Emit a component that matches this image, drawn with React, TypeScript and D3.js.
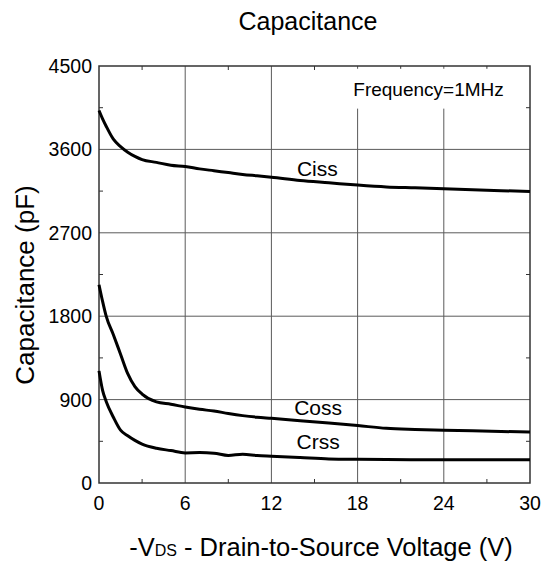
import React, { useEffect, useRef } from 'react';
import * as d3 from 'd3';

// values (V, pF)
const vds = [0, 0.25, 0.5, 1, 1.5, 2, 2.5, 3, 4, 5, 6, 7, 8, 9, 10, 11, 12, 14, 16, 18, 20, 22, 24, 26, 28, 30];
const ciss = [4020, 3930, 3850, 3710, 3630, 3570, 3525, 3490, 3460, 3430, 3415, 3390, 3370, 3350, 3330, 3315, 3300, 3265, 3240, 3215, 3195, 3185, 3175, 3165, 3155, 3145];
const coss = [2140, 1960, 1800, 1600, 1390, 1180, 1040, 960, 875, 850, 820, 795, 777, 750, 727, 710, 698, 672, 648, 620, 590, 578, 570, 563, 556, 550];
const crss = [1210, 1000, 880, 710, 570, 510, 460, 420, 375, 350, 325, 328, 322, 298, 310, 298, 290, 275, 260, 255, 253, 252, 251, 250, 250, 250];

const xTicks = [0, 6, 12, 18, 24, 30];
const yTicks = [0, 900, 1800, 2700, 3600, 4500];
const xMinor = [3, 9, 15, 21, 27];
const yMinor = [450, 1350, 2250, 3150, 4050];

const series = [
  { name: 'Ciss', values: ciss, labelX: 15.2, labelY: 3313 },
  { name: 'Coss', values: coss, labelX: 15.25, labelY: 734 },
  { name: 'Crss', values: crss, labelX: 15.25, labelY: 367 },
];

const FONT = "'Liberation Sans', Arial, sans-serif";

export default function App() {
  const ref = useRef<SVGSVGElement>(null);

  useEffect(() => {
    const width = 547, height = 567;
    const margin = { top: 66, right: 17, bottom: 84, left: 99 };
    const innerWidth = width - margin.left - margin.right;
    const innerHeight = height - margin.top - margin.bottom;

    const svg = d3.select(ref.current).attr('width', width).attr('height', height);
    svg.selectAll('*').remove();
    const g = svg.append('g').attr('transform', `translate(${margin.left},${margin.top})`);

    const x = d3.scaleLinear().domain([0, 30]).range([0, innerWidth]);
    const y = d3.scaleLinear().domain([0, 4500]).range([innerHeight, 0]);

    // grid
    g.selectAll('.vgrid').data(xTicks.slice(1, -1)).join('line')
      .attr('class', 'vgrid')
      .attr('x1', d => x(d)).attr('x2', d => x(d)).attr('y1', 0).attr('y2', innerHeight)
      .attr('stroke', '#5a5a5a').attr('stroke-width', 1);
    g.selectAll('.hgrid').data(yTicks.slice(1, -1)).join('line')
      .attr('class', 'hgrid')
      .attr('x1', 0).attr('x2', innerWidth).attr('y1', d => y(d)).attr('y2', d => y(d))
      .attr('stroke', '#5a5a5a').attr('stroke-width', 1);

    // minor ticks on all four sides, pointing in
    const tl = 4;
    xMinor.forEach(v => {
      g.append('line').attr('x1', x(v)).attr('x2', x(v)).attr('y1', innerHeight).attr('y2', innerHeight - tl).attr('stroke', '#333');
      g.append('line').attr('x1', x(v)).attr('x2', x(v)).attr('y1', 0).attr('y2', tl).attr('stroke', '#333');
    });
    yMinor.forEach(v => {
      g.append('line').attr('x1', 0).attr('x2', tl).attr('y1', y(v)).attr('y2', y(v)).attr('stroke', '#333');
      g.append('line').attr('x1', innerWidth).attr('x2', innerWidth - tl).attr('y1', y(v)).attr('y2', y(v)).attr('stroke', '#333');
    });

    // frequency note with white box
    g.append('rect').attr('x', x(17.4)).attr('y', y(4470)).attr('width', x(29.3) - x(17.4)).attr('height', y(4040) - y(4470)).attr('fill', '#fff');
    g.append('text').attr('x', x(17.7)).attr('y', y(4180)).attr('font-size', 19).attr('font-family', FONT).text('Frequency=1MHz');

    // frame
    g.append('rect').attr('width', innerWidth).attr('height', innerHeight).attr('fill', 'none').attr('stroke', '#333').attr('stroke-width', 1.5);

    // curves
    const line = d3.line<number>().x((_, i) => x(vds[i])).y(d => y(d)).curve(d3.curveMonotoneX);
    series.forEach(s => {
      g.append('path').datum(s.values).attr('d', line).attr('fill', 'none').attr('stroke', '#000').attr('stroke-width', 3);
      g.append('text').attr('x', x(s.labelX)).attr('y', y(s.labelY)).attr('text-anchor', 'middle')
        .attr('font-size', 21).attr('font-family', FONT).text(s.name);
    });

    // tick labels
    g.selectAll('.xl').data(xTicks).join('text')
      .attr('class', 'xl')
      .attr('x', d => x(d)).attr('y', innerHeight + 27).attr('text-anchor', 'middle')
      .attr('font-size', 19.5).attr('font-family', FONT).text(d => d);
    g.selectAll('.yl').data(yTicks).join('text')
      .attr('class', 'yl')
      .attr('x', -7).attr('y', d => y(d) + 7).attr('text-anchor', 'end')
      .attr('font-size', 19.5).attr('font-family', FONT).text(d => d);

    // titles
    svg.append('text').attr('x', 308).attr('y', 30).attr('text-anchor', 'middle')
      .attr('font-size', 25).attr('font-family', FONT).text('Capacitance');

    const xl = svg.append('text').attr('x', 321).attr('y', 556).attr('text-anchor', 'middle')
      .attr('font-size', 25.5).attr('font-family', FONT);
    xl.append('tspan').text('-V');
    xl.append('tspan').attr('font-size', 16).text('DS');
    xl.append('tspan').text(' - Drain-to-Source Voltage (V)');

    svg.append('text').attr('transform', `translate(34,285) rotate(-90)`)
      .attr('text-anchor', 'middle').attr('font-size', 26).attr('font-family', FONT).text('Capacitance (pF)');
  }, []);

  return <svg ref={ref} style={{ position: 'absolute', left: 0, top: 0, background: '#fff' }} />;
}
